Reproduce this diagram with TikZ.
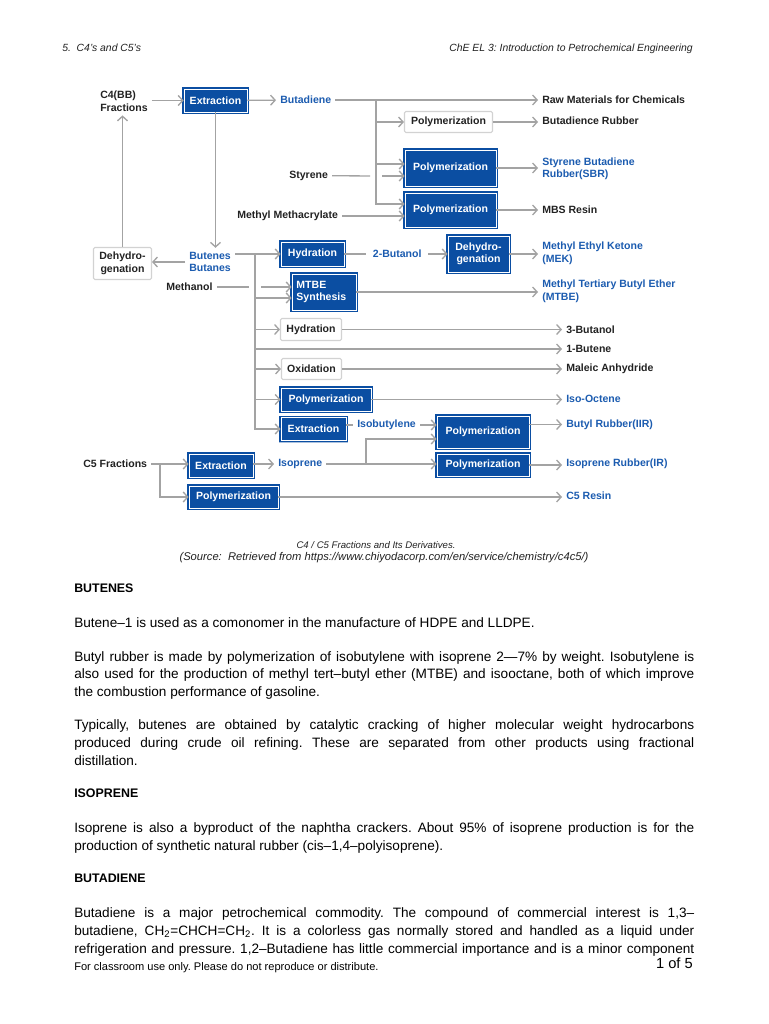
\documentclass[tikz,border=0pt]{standalone}
\usepackage{fontspec}
\setmainfont{Liberation Sans}
\usetikzlibrary{arrows.meta,positioning,calc}
\definecolor{boxblue}{HTML}{0B4EA2}
\definecolor{txtblue}{HTML}{1C5CB0}
\definecolor{lnegray}{HTML}{A3A3A3}
\definecolor{framegray}{HTML}{D2D2D2}
\definecolor{inkC}{HTML}{222222}
\newcommand{\dgfont}{\fontsize{7.9}{9.4}\selectfont\bfseries}
\newcommand{\bodyfont}{\fontsize{10.2}{13.5}\selectfont}
\newcommand{\fullline}[1]{\makebox[465pt][s]{#1}}
\frenchspacing
\tikzset{
  bluebox/.style={rectangle, preaction={draw=boxblue!35, line width=3pt},
                  preaction={draw=boxblue, line width=2.3pt}, draw=white, line width=0.55pt,
                  fill=boxblue, text=white, align=center, font=\dgfont, inner sep=1pt},
  whitebox/.style={rectangle, rounded corners=1pt, draw=framegray, line width=0.8pt, fill=white,
                   text=inkC, align=center, font=\dgfont, inner sep=1pt},
  sz/.style 2 args={minimum width=#1*0.75pt, minimum height=#2*0.75pt},
  lbl/.style={inner sep=3pt, align=left, font=\dgfont, text=inkC},
  bluelbl/.style={lbl, text=txtblue},
  conn/.style={draw=lnegray, line width=1pt},
  arr/.style={conn, -{Straight Barb[length=3.4pt,width=7.5pt]}},
  body/.style={anchor=base west, inner sep=0pt, font=\bodyfont, text=black},
  bodyhd/.style={anchor=base west, inner sep=0pt, font=\fontsize{9.3}{11}\selectfont\bfseries, text=black},
  small/.style={inner sep=0pt, font=\fontsize{7.8}{9}\selectfont\itshape, text=inkC},
}
\begin{document}
\begin{tikzpicture}[x=0.75pt,y=-0.75pt]
  \useasboundingbox (0,0) rectangle (768,1024);
  \fill[white] (0,0) rectangle (768,1024);

  \node[small, anchor=base west] (hdl) at (62,51.5) {5.\ \ C4’s and C5’s};
  \node[small, anchor=base east] (hdr) at (693,51.5) {ChE EL 3: Introduction to Petrochemical Engineering};

  % C4 side
  \node[lbl, anchor=west] (c4) at (96,101) {C4(BB)\\Fractions};
  \node[bluebox, sz={63}{23}] (ext1) at (215.5,100.5) {Extraction};
  \node[bluelbl, anchor=west] (buta) at (276,100) {Butadiene};
  \node[lbl, anchor=west] (raw) at (538,100) {Raw Materials for Chemicals};
  \node[whitebox, sz={88}{21}] (polA) at (448.5,122) {Polymerization};
  \node[lbl, anchor=west] (br) at (538,121) {Butadience Rubber};
  \node[bluebox, sz={91}{36}] (polB) at (450.5,168) {Polymerization};
  \node[lbl, anchor=west] (sty) at (285,175.5) {Styrene};
  \node[bluelbl, anchor=west] (sbr) at (538,169) {Styrene Butadiene\\Rubber(SBR)};
  \node[bluebox, sz={91}{34}] (polC) at (450.5,210) {Polymerization};
  \node[lbl, anchor=west] (mma) at (233,216) {Methyl Methacrylate};
  \node[lbl, anchor=west] (mbs) at (538,210) {MBS Resin};

  \node[bluelbl, anchor=west] (butenes) at (185,262) {Butenes\\Butanes};
  \node[whitebox, sz={58}{32}] (dehA) at (122.5,263.5) {Dehydro-\\genation};
  \node[bluebox, sz={63}{24}] (hyd1) at (312.5,254) {Hydration};
  \node[bluelbl, anchor=west, inner sep=5pt] (but2) at (366,254) {2-Butanol};
  \node[bluebox, sz={61}{36}] (dehB) at (478.5,254) {Dehydro-\\genation};
  \node[bluelbl, anchor=west] (mek) at (538,253.5) {Methyl Ethyl Ketone\\(MEK)};
  \node[lbl, anchor=west] (meoh) at (162,287) {Methanol};
  \node[bluebox, sz={64}{36}, align=left] (mtbe) at (324,292) {MTBE\\Synthesis\hspace*{4pt}};
  \node[bluelbl, anchor=west] (mtbep) at (538,291.5) {Methyl Tertiary Butyl Ether\\(MTBE)};
  \node[whitebox, sz={61}{22}] (hyd2) at (311,329.5) {Hydration};
  \node[lbl, anchor=west] (b3) at (562,329.5) {3-Butanol};
  \node[lbl, anchor=west] (b1) at (562,349) {1-Butene};
  \node[whitebox, sz={60}{21}] (oxi) at (311.5,369) {Oxidation};
  \node[lbl, anchor=west] (mal) at (562,368.5) {Maleic Anhydride};
  \node[bluebox, sz={90}{23}] (polD) at (326,399.5) {Polymerization};
  \node[bluelbl, anchor=west] (iso8) at (562,399) {Iso-Octene};
  \node[bluebox, sz={65}{23}] (ext2) at (313.5,429) {Extraction};
  \node[bluelbl, anchor=west] (isob) at (353,425) {Isobutylene};
  \node[bluebox, sz={92}{32}] (polE) at (483,432) {Polymerization};
  \node[bluelbl, anchor=west] (iir) at (562,424.5) {Butyl Rubber(IIR)};

  % C5 side
  \node[lbl, anchor=west] (c5) at (79,464) {C5 Fractions};
  \node[bluebox, sz={64}{23}] (ext3) at (221,465.5) {Extraction};
  \node[bluelbl, anchor=west] (ispr) at (274,464) {Isoprene};
  \node[bluebox, sz={92}{22}] (polF) at (483,465) {Polymerization};
  \node[bluelbl, anchor=west] (ir) at (562,464) {Isoprene Rubber(IR)};
  \node[bluebox, sz={89}{22}] (polG) at (233.5,497) {Polymerization};
  \node[bluelbl, anchor=west] (c5r) at (562,496) {C5 Resin};

  \coordinate (j1) at (376,100);
  \coordinate (g1) at (370,176);
  \coordinate (g2) at (382,176);
  \coordinate (j2) at (255,254);
  \coordinate (g3) at (249,287);
  \coordinate (g4) at (261,287);
  \coordinate (j3) at (160,464);
  \coordinate (j4) at (366,464);

  \draw[arr] (c4.east |- ext1) -- (ext1);
  \draw[arr] (ext1) -- (buta);
  \draw[arr] (buta) -- (raw);
  \draw[arr] (j1) |- (polA);
  \draw[arr] (j1) |- ([yshift=3pt]polB.west);
  \draw[arr] (j1) |- ([yshift=4.5pt]polC.west);
  \draw[conn] (sty) -- (g1);
  \draw[arr] (g2) -- (g2 -| polB.west);
  \draw[arr] (mma) -- (mma -| polC.west);
  \draw[arr] (polA.east) -- (polA.east -| br.west);
  \draw[arr] (polB.east) -- (polB.east -| sbr.west);
  \draw[arr] (polC.east) -- (polC.east -| mbs.west);

  \draw[arr] (ext1) -- (ext1 |- butenes.north);
  \draw[arr] (butenes.west) -- (butenes.west -| dehA.east);
  \draw[arr] (dehA) -- (dehA |- c4.south);
  \draw[arr] (butenes.east |- hyd1) -- (hyd1);
  \draw[conn] (hyd1) -- (but2);
  \draw[arr] (but2) -- (dehB);
  \draw[arr] (dehB.east) -- (dehB.east -| mek.west);
  \draw[conn] (meoh) -- (g3);
  \draw[arr] (g4) -- (g4 -| mtbe.west);
  \draw[arr] (j2) |- ([yshift=-4.5pt]mtbe.west);
  \draw[arr] (mtbe.east) -- (mtbe.east -| mtbep.west);
  \draw[arr] (j2) |- (hyd2);
  \draw[arr] (hyd2) -- (hyd2 -| b3.west);
  \draw[arr] (j2) |- (b1);
  \draw[arr] (j2) |- (oxi);
  \draw[arr] (oxi) -- (oxi -| mal.west);
  \draw[arr] (j2) |- (polD);
  \draw[arr] (polD) -- (polD -| iso8.west);
  \draw[arr] (j2) |- (ext2);
  \draw[conn] (ext2.east |- isob) -- (isob);
  \draw[arr] (isob) -- (isob -| polE.west);
  \draw[arr] (polE.east |- iir) -- (iir);

  \draw[arr] (c5) -- (c5 -| ext3.west);
  \draw[arr] (j3) |- (polG);
  \draw[arr] (ext3.east |- ispr) -- (ispr);
  \draw[arr] (ispr) -- (ispr -| polF.west);
  \draw[arr] (j4) |- ([yshift=-5.25pt]polE.west);
  \draw[arr] (polF) -- (polF -| ir.west);
  \draw[arr] (polG) -- (polG -| c5r.west);

  \node[small, anchor=base, font=\fontsize{7.2}{9}\selectfont\itshape] (cap1) at (376,548.5) {C4 / C5 Fractions and Its Derivatives.};
  \node[small, anchor=base, font=\fontsize{8.4}{9}\selectfont\itshape] (cap2) at (384,560.5) {(Source:\ \ Retrieved from https://www.chiyodacorp.com/en/service/chemistry/c4c5/)};

  \node[bodyhd] (hbut) at (74,592.5) {BUTENES};
  \node[body] (p1) at (74,627) {Butene–1 is used as a comonomer in the manufacture of HDPE and LLDPE.};
  \node[body] (p2a) at (74,661) {\fullline{Butyl rubber is made by polymerization of isobutylene with isoprene 2—7\% by weight. Isobutylene is}};
  \node[body] (p2b) at (74,678) {\fullline{also used for the production of methyl tert–butyl ether (MTBE) and isooctane, both of which improve}};
  \node[body] (p2c) at (74,696) {the combustion performance of gasoline.};
  \node[body] (p3a) at (74,729) {\fullline{Typically, butenes are obtained by catalytic cracking of higher molecular weight hydrocarbons}};
  \node[body] (p3b) at (74,747) {\fullline{produced during crude oil refining. These are separated from other products using fractional}};
  \node[body] (p3c) at (74,765) {distillation.};
  \node[bodyhd] (hiso) at (74,797.5) {ISOPRENE};
  \node[body] (p4a) at (74,832) {\fullline{Isoprene is also a byproduct of the naphtha crackers. About 95\% of isoprene production is for the}};
  \node[body] (p4b) at (74,850) {production of synthetic natural rubber (cis–1,4–polyisoprene).};
  \node[bodyhd] (hbd) at (74,882.5) {BUTADIENE};
  \node[body] (p5a) at (74,917) {\fullline{Butadiene is a major petrochemical commodity. The compound of commercial interest is 1,3–}};
  \node[body] (p5b) at (74,935) {\fullline{butadiene, CH\textsubscript{2}=CHCH=CH\textsubscript{2}. It is a colorless gas normally stored and handled as a liquid under}};
  \node[body] (p5c) at (74,953) {\fullline{refrigeration and pressure. 1,2–Butadiene has little commercial importance and is a minor component}};

  \node[anchor=base west, inner sep=0pt, font=\fontsize{8.3}{9}\selectfont] (foot) at (74,970.5) {For classroom use only. Please do not reproduce or distribute.};
  \node[anchor=base east, inner sep=0pt, font=\fontsize{11}{13}\selectfont] (pg) at (693,968) {1 of 5};
\end{tikzpicture}
\end{document}
